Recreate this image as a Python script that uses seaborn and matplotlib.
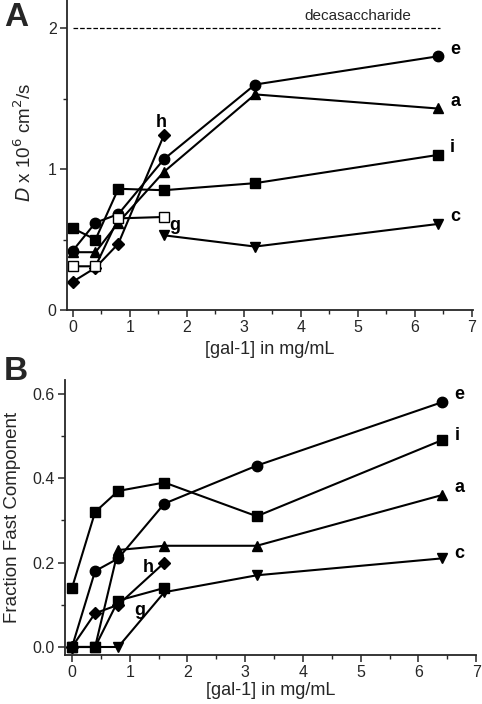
import numpy as np
import pandas as pd
import matplotlib
matplotlib.use('Agg')
import matplotlib.pyplot as plt
from matplotlib.ticker import MultipleLocator
import seaborn as sns

sns.set_style('ticks')
plt.rcParams['font.family'] = ['Liberation Sans', 'DejaVu Sans']

# gal-1 concentrations (mg/mL)
conc = [0, 0.4, 0.8, 1.6, 3.2, 6.4]

# panel A: diffusion coefficient D x 10^6 cm^2/s
a_e = [0.42, 0.62, 0.68, 1.07, 1.60, 1.80]
a_a = [0.41, 0.41, 0.62, 0.98, 1.53, 1.43]
a_i = [0.58, 0.50, 0.86, 0.85, 0.90, 1.10]
a_c_x = [1.6, 3.2, 6.4]
a_c = [0.53, 0.45, 0.61]
a_h_x = [0, 0.4, 0.8, 1.6]
a_h = [0.20, 0.30, 0.47, 1.24]
a_g_x = [0, 0.4, 0.8, 1.6]
a_g = [0.31, 0.31, 0.65, 0.66]
deca_D = 2.0

# panel B: fraction fast component
b_e = [0.00, 0.18, 0.21, 0.34, 0.43, 0.58]
b_i = [0.14, 0.32, 0.37, 0.39, 0.31, 0.49]
b_a = [0.00, 0.00, 0.23, 0.24, 0.24, 0.36]
b_c = [0.00, 0.00, 0.00, 0.13, 0.17, 0.21]
b_h_x = [0, 0.4, 0.8, 1.6]
b_h = [0.00, 0.08, 0.10, 0.20]
b_g_x = [0, 0.4, 0.8, 1.6]
b_g = [0.00, 0.00, 0.11, 0.14]

fig = plt.figure(figsize=(4.82, 7.04), dpi=100)
axA = fig.add_axes([0.139, 0.5597, 0.842, 0.4403])
axB = fig.add_axes([0.135, 0.0696, 0.853, 0.3906])


def draw(ax, x, y, marker, open_marker=False, ms=7.5):
    df = pd.DataFrame({'x': x, 'y': y})
    sns.lineplot(data=df, x='x', y='y', ax=ax, color='black', lw=1.5,
                 marker=marker, markersize=ms, sort=False, estimator=None,
                 markerfacecolor='white' if open_marker else 'black',
                 markeredgecolor='black', markeredgewidth=1.0)


lbl = dict(fontsize=13, fontweight='bold', color='black')

# ---- panel A
draw(axA, conc, a_e, 'o')
draw(axA, conc, a_a, '^')
draw(axA, conc, a_i, 's', ms=7)
draw(axA, a_c_x, a_c, 'v')
draw(axA, a_h_x, a_h, 'D', ms=6.5)
draw(axA, a_g_x, a_g, 's', open_marker=True, ms=7)
axA.hlines(deca_D, 0, 6.45, colors='black', linestyles='--', lw=0.9)
axA.text(5.0, 2.04, 'decasaccharide', ha='center', va='bottom', fontsize=11)

axA.text(6.62, 1.79, 'e', va='bottom', **lbl)
axA.text(6.62, 1.42, 'a', va='bottom', **lbl)
axA.text(6.62, 1.09, 'i', va='bottom', **lbl)
axA.text(6.62, 0.60, 'c', va='bottom', **lbl)
axA.text(1.45, 1.27, 'h', va='bottom', **lbl)
axA.text(1.70, 0.54, 'g', va='bottom', **lbl)

axA.set_xlim(-0.1, 7.02)
axA.set_ylim(0, 2.2)
axA.xaxis.set_major_locator(MultipleLocator(1))
axA.xaxis.set_minor_locator(MultipleLocator(0.5))
axA.yaxis.set_major_locator(MultipleLocator(1))
axA.yaxis.set_minor_locator(MultipleLocator(0.5))
axA.set_xlabel('[gal-1] in mg/mL', fontsize=13, labelpad=4)
axA.set_ylabel(r'$D$ x 10$^6$ cm$^2$/s', fontsize=13.5)
axA.yaxis.set_label_coords(-0.078, 0.54)

# ---- panel B
draw(axB, conc, b_e, 'o')
draw(axB, conc, b_i, 's', ms=7)
draw(axB, conc, b_a, '^')
draw(axB, conc, b_c, 'v')
draw(axB, b_h_x, b_h, 'D', ms=6.5)
draw(axB, b_g_x, b_g, 's', ms=7)

axB.text(6.62, 0.578, 'e', va='bottom', **lbl)
axB.text(6.62, 0.482, 'i', va='bottom', **lbl)
axB.text(6.62, 0.357, 'a', va='bottom', **lbl)
axB.text(6.62, 0.202, 'c', va='bottom', **lbl)
axB.text(1.22, 0.168, 'h', va='bottom', **lbl)
axB.text(1.08, 0.066, 'g', va='bottom', **lbl)

axB.set_xlim(-0.12, 7.0)
axB.set_ylim(-0.019, 0.633)
axB.xaxis.set_major_locator(MultipleLocator(1))
axB.xaxis.set_minor_locator(MultipleLocator(0.5))
axB.yaxis.set_major_locator(MultipleLocator(0.2))
axB.yaxis.set_minor_locator(MultipleLocator(0.1))
axB.yaxis.set_major_formatter(matplotlib.ticker.FormatStrFormatter('%.1f'))
axB.set_xlabel('[gal-1] in mg/mL', fontsize=13, labelpad=1)
axB.set_ylabel('Fraction Fast Component', fontsize=13.5, labelpad=8)

for ax in (axA, axB):
    sns.despine(ax=ax)
    ax.spines['left'].set_linewidth(1.3)
    ax.spines['bottom'].set_linewidth(1.3)
    ax.tick_params(which='major', direction='out', length=5, width=1.1, labelsize=11.5, pad=2.5)
    ax.tick_params(which='minor', direction='out', length=3, width=1.0)

fig.text(0.008, 0.997, 'A', fontsize=24, fontweight='bold', va='top', ha='left')
fig.text(0.008, 0.495, 'B', fontsize=24, fontweight='bold', va='top', ha='left')

fig.savefig('out.png', dpi=100)
